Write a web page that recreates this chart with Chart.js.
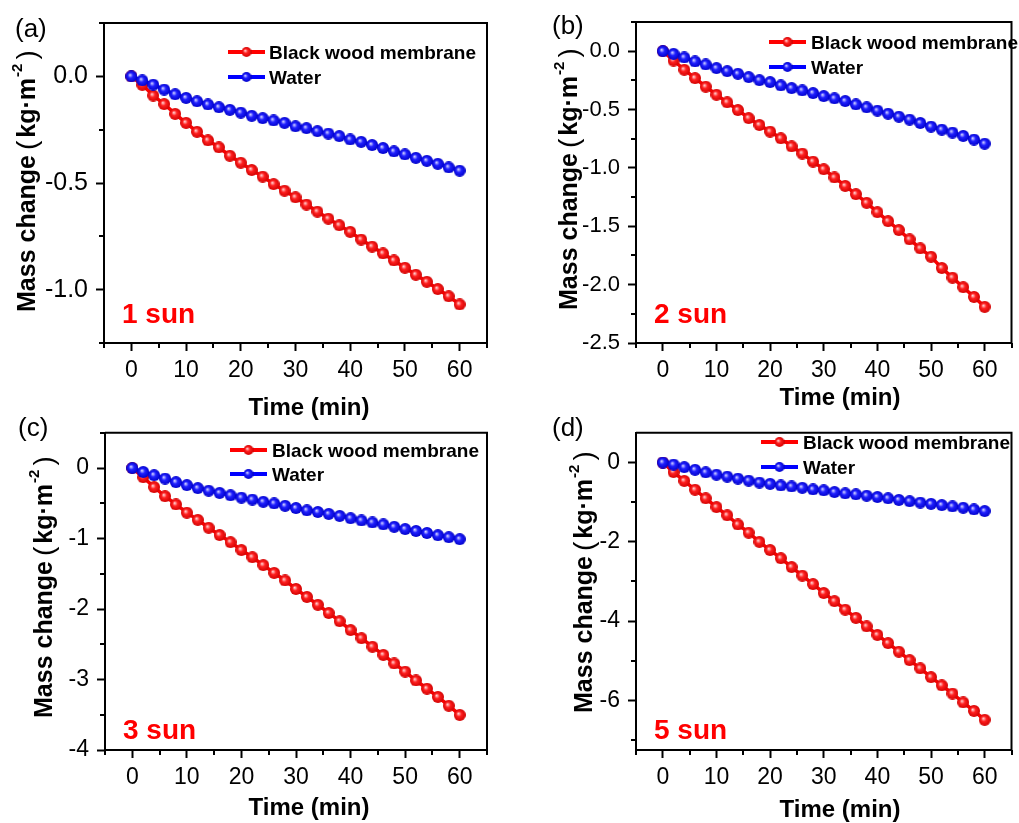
<!DOCTYPE html>
<html>
<head>
<meta charset="utf-8">
<script src="https://cdn.jsdelivr.net/npm/chart.js@4.4.1/dist/chart.umd.min.js"></script>
<style>
  html, body { margin: 0; padding: 0; background: #fff; }
  #wrap { position: relative; width: 1019px; height: 823px; overflow: hidden; }
  #wrap canvas { position: absolute; }
</style>
</head>
<body>
<div id="wrap">
  <canvas id="pa" width="509" height="425" style="left:0px;top:0px"></canvas>
  <canvas id="pb" width="510" height="425" style="left:509px;top:0px"></canvas>
  <canvas id="pc" width="509" height="412" style="left:0px;top:411px"></canvas>
  <canvas id="pd" width="510" height="412" style="left:509px;top:411px"></canvas>
</div>
<script>
// sampling times (min)
const timeMin = [0, 2, 4, 6, 8, 10, 12, 14, 16, 18, 20, 22, 24, 26, 28, 30,
  32, 34, 36, 38, 40, 42, 44, 46, 48, 50, 52, 54, 56, 58, 60];

// mass change (kg m-2), black wood membrane vs bare water
const redA = [0, -0.04, -0.09, -0.13, -0.176, -0.218, -0.26, -0.30, -0.333, -0.372, -0.405,
  -0.439, -0.47, -0.505, -0.536, -0.567, -0.601, -0.634, -0.667, -0.698, -0.729,
  -0.765, -0.798, -0.83, -0.863, -0.897, -0.93, -0.963, -0.997, -1.031, -1.069];
const blueA = [0, -0.019, -0.039, -0.062, -0.084, -0.101, -0.117, -0.132, -0.145, -0.157, -0.170,
  -0.185, -0.196, -0.207, -0.218, -0.234, -0.243, -0.257, -0.268, -0.280, -0.296,
  -0.307, -0.322, -0.336, -0.352, -0.366, -0.382, -0.396, -0.410, -0.427, -0.442];

const redB = [0, -0.08, -0.159, -0.231, -0.304, -0.373, -0.438, -0.504, -0.573, -0.632, -0.689,
  -0.746, -0.815, -0.877, -0.946, -1.011, -1.082, -1.154, -1.225, -1.299, -1.379,
  -1.456, -1.532, -1.612, -1.689, -1.761, -1.857, -1.94, -2.022, -2.105, -2.19];
const blueB = [0, -0.023, -0.054, -0.088, -0.114, -0.145, -0.171, -0.193, -0.222, -0.248, -0.265,
  -0.293, -0.316, -0.336, -0.359, -0.385, -0.404, -0.427, -0.456, -0.481, -0.509,
  -0.535, -0.561, -0.586, -0.615, -0.646, -0.672, -0.697, -0.726, -0.757, -0.792];

const redC = [0, -0.13, -0.27, -0.40, -0.516, -0.633, -0.735, -0.847, -0.949, -1.051, -1.163,
  -1.265, -1.377, -1.488, -1.595, -1.716, -1.828, -1.94, -2.056, -2.172, -2.298,
  -2.414, -2.535, -2.651, -2.772, -2.888, -3.014, -3.13, -3.247, -3.372, -3.502];
const blueC = [0, -0.056, -0.102, -0.149, -0.2, -0.242, -0.284, -0.321, -0.353, -0.386, -0.419,
  -0.447, -0.479, -0.502, -0.535, -0.567, -0.6, -0.623, -0.651, -0.679, -0.712,
  -0.744, -0.772, -0.8, -0.833, -0.865, -0.893, -0.921, -0.953, -0.981, -1.009];

const redD = [0, -0.24, -0.463, -0.686, -0.901, -1.124, -1.331, -1.562, -1.769, -2.0, -2.207,
  -2.413, -2.636, -2.851, -3.066, -3.289, -3.496, -3.711, -3.917, -4.132, -4.347,
  -4.554, -4.769, -4.983, -5.19, -5.413, -5.62, -5.826, -6.05, -6.264, -6.488];
const blueD = [0, -0.05, -0.116, -0.182, -0.248, -0.306, -0.355, -0.405, -0.455, -0.504, -0.537,
  -0.579, -0.603, -0.636, -0.678, -0.702, -0.744, -0.777, -0.802, -0.835, -0.868,
  -0.901, -0.942, -0.975, -1.008, -1.041, -1.074, -1.107, -1.14, -1.182, -1.223];

// axis ticks
const timeTicks = [0, 10, 20, 30, 40, 50, 60];
const timeMinor = [-5, 5, 15, 25, 35, 45, 55, 65];
const yTicksA = [0, -0.5, -1.0];
const yMinorA = [0.25, -0.25, -0.75, -1.25];
const yTicksB = [0, -0.5, -1.0, -1.5, -2.0, -2.5];
const yMinorB = [0.25, -0.25, -0.75, -1.25, -1.75, -2.25];
const yTicksC = [0, -1, -2, -3, -4];
const yMinorC = [0.5, -0.5, -1.5, -2.5, -3.5];
const yTicksD = [0, -2, -4, -6];
const yMinorD = [-1, -3, -5, -7];

const seriesNames = ['Black wood membrane', 'Water'];
const sunLabels = ['1 sun', '2 sun', '3 sun', '5 sun'];
const panelTags = ['(a)', '(b)', '(c)', '(d)'];

const FONT = '"Liberation Sans", Arial, sans-serif';
Chart.defaults.font.family = FONT;
Chart.defaults.color = '#000';

const RED = '#ff0000';
const BLUE = '#0000ff';

// shaded ball marker
function ball(size, light, mid, dark) {
  const c = document.createElement('canvas');
  c.width = c.height = size;
  const r = size / 2;
  const g = c.getContext('2d');
  const grad = g.createRadialGradient(r - 1.4, r - 1.4, 0.2, r, r, r + 0.1);
  grad.addColorStop(0, light);
  grad.addColorStop(0.4, mid);
  grad.addColorStop(1, dark);
  g.fillStyle = grad;
  g.beginPath();
  g.arc(r, r, r, 0, Math.PI * 2);
  g.fill();
  return c;
}
const redBall = ball(12, '#ffd6d6', '#ff2020', '#d00000');
const blueBall = ball(12, '#d6d6ff', '#2020ff', '#0000c8');
const redKey = ball(10, '#ffd6d6', '#ff2020', '#d00000');
const blueKey = ball(10, '#d6d6ff', '#2020ff', '#0000c8');

// frame, minor ticks, titles, legend and labels
const decor = {
  id: 'decor',
  afterDraw(chart, args, o) {
    const ctx = chart.ctx;
    const a = chart.chartArea;
    const xs = chart.scales.x, ys = chart.scales.y;
    ctx.save();
    ctx.strokeStyle = '#000';
    ctx.lineWidth = 2;
    ctx.beginPath();
    ctx.moveTo(a.left, a.top);
    ctx.lineTo(a.right, a.top);
    ctx.lineTo(a.right, a.bottom + 1);
    ctx.stroke();

    ctx.beginPath();
    o.xMinor.forEach(v => {
      const px = Math.round(xs.getPixelForValue(v));
      ctx.moveTo(px, a.bottom);
      ctx.lineTo(px, a.bottom + 5);
    });
    o.yMinor.forEach(v => {
      const py = Math.round(ys.getPixelForValue(v));
      ctx.moveTo(a.left, py);
      ctx.lineTo(a.left - 5, py);
    });
    ctx.stroke();

    ctx.fillStyle = '#000';
    ctx.textBaseline = 'alphabetic';

    // x title
    ctx.textAlign = 'center';
    ctx.font = 'bold 24px ' + FONT;
    ctx.fillText('Time (min)', o.xTitle[0], o.xTitle[1]);

    // y title, rotated, with superscript
    ctx.save();
    ctx.translate(o.yTitle[0], o.yTitle[1]);
    ctx.rotate(-Math.PI / 2);
    ctx.textAlign = 'left';
    const parts = [
      { t: 'Mass change', f: 'bold 25px ' + FONT, dy: 0, gap: 5 },
      { t: '(', f: '28px ' + FONT, dy: 1, gap: 3 },
      { t: 'kg·m', f: 'bold 25px ' + FONT, dy: 0, gap: 1 },
      { t: '-2', f: 'bold 15px ' + FONT, dy: -13, gap: 4 },
      { t: ')', f: '28px ' + FONT, dy: 1, gap: 0 }
    ];
    let pos = 0;
    parts.forEach(p => {
      ctx.font = p.f;
      ctx.fillText(p.t, pos, p.dy);
      pos += ctx.measureText(p.t).width + p.gap;
    });
    ctx.restore();

    // panel tag
    ctx.textAlign = 'left';
    ctx.font = '26px ' + FONT;
    ctx.fillText(o.tag, o.tagPos[0], o.tagPos[1]);

    // irradiation label
    ctx.fillStyle = RED;
    ctx.font = 'bold 28px ' + FONT;
    ctx.fillText(o.sun, a.left + o.sunDx, o.sunY);

    // legend
    const marks = [[RED, redKey], [BLUE, blueKey]];
    marks.forEach((m, i) => {
      const y = o.legY[i];
      ctx.strokeStyle = m[0];
      ctx.lineWidth = 4;
      ctx.beginPath();
      ctx.moveTo(o.legX[0], y);
      ctx.lineTo(o.legX[1], y);
      ctx.stroke();
      ctx.drawImage(m[1], (o.legX[0] + o.legX[1]) / 2 - 5, y - 5);
      ctx.fillStyle = '#000';
      ctx.font = 'bold 19px ' + FONT;
      ctx.fillText(o.names[i], o.legX[2], y + 7);
    });
    ctx.restore();
  }
};

function makePanel(id, p) {
  const pts = arr => arr.map((v, i) => ({ x: timeMin[i], y: v }));
  return new Chart(document.getElementById(id), {
    type: 'line',
    data: {
      datasets: [
        { label: seriesNames[1], data: pts(p.blue), borderColor: BLUE, borderWidth: 3.5,
          pointStyle: blueBall, order: 0 },
        { label: seriesNames[0], data: pts(p.red), borderColor: RED, borderWidth: 3.5,
          pointStyle: redBall, order: 1 }
      ]
    },
    options: {
      responsive: false,
      animation: false,
      events: [],
      layout: { padding: { left: 0, top: p.padTop, right: p.padRight, bottom: 0 } },
      plugins: {
        legend: { display: false },
        tooltip: { enabled: false },
        decor: {
          xMinor: timeMinor, yMinor: p.yMinor, xTitle: p.xTitle, yTitle: p.yTitle,
          tag: p.tag, tagPos: p.tagPos, sun: p.sun, sunDx: 18, sunY: p.sunY,
          legX: p.legX, legY: p.legY, names: seriesNames
        }
      },
      scales: {
        x: {
          type: 'linear', min: -5, max: 65,
          afterBuildTicks: s => { s.ticks = timeTicks.map(v => ({ value: v })); },
          afterFit: s => { s.height = p.xH; },
          grid: { drawOnChartArea: false, tickLength: 8, tickWidth: 2, tickColor: '#000' },
          border: { color: '#000', width: 2 },
          ticks: { font: { size: 23 }, padding: 6, maxRotation: 0 }
        },
        y: {
          type: 'linear', min: p.yMin, max: p.yMax,
          afterBuildTicks: s => { s.ticks = p.yTicks.map(v => ({ value: v })); },
          afterFit: s => { s.width = p.yW; },
          grid: { drawOnChartArea: false, tickLength: 8, tickWidth: 2, tickColor: '#000' },
          border: { color: '#000', width: 2 },
          ticks: {
            font: { size: p.yFont }, padding: 8,
            callback: v => Number(v).toFixed(p.dec)
          }
        }
      }
    },
    plugins: [decor]
  });
}

makePanel('pa', {
  red: redA, blue: blueA, yMin: -1.25, yMax: 0.25, yTicks: yTicksA, yMinor: yMinorA, dec: 1,
  yFont: 25, padTop: 22, padRight: 22, xH: 82, yW: 104,
  xTitle: [309, 415], yTitle: [35, 312], tag: panelTags[0], tagPos: [15, 37],
  sun: sunLabels[0], sunY: 323, legX: [228, 265, 269], legY: [52, 77]
});
makePanel('pb', {
  red: redB, blue: blueB, yMin: -2.5, yMax: 0.25, yTicks: yTicksB, yMinor: yMinorB, dec: 1,
  yFont: 22, padTop: 22, padRight: 2, xH: 82, yW: 127,
  xTitle: [331, 405], yTitle: [68, 310], tag: panelTags[1], tagPos: [43, 34],
  sun: sunLabels[1], sunY: 323, legX: [260, 297, 302], legY: [42, 67]
});
makePanel('pc', {
  red: redC, blue: blueC, yMin: -4, yMax: 0.5, yTicks: yTicksC, yMinor: yMinorC, dec: 0,
  yFont: 23, padTop: 16, padRight: 22, xH: 73, yW: 105,
  xTitle: [309, 404], yTitle: [52, 307], tag: panelTags[2], tagPos: [18, 25],
  sun: sunLabels[2], sunY: 328, legX: [230, 267, 272], legY: [39, 63]
});
makePanel('pd', {
  red: redD, blue: blueD, yMin: -7.25, yMax: 0.75, yTicks: yTicksD, yMinor: yMinorD, dec: 0,
  yFont: 23, padTop: 16, padRight: 2, xH: 73, yW: 127,
  xTitle: [331, 406], yTitle: [83, 302], tag: panelTags[3], tagPos: [43, 25],
  sun: sunLabels[3], sunY: 328, legX: [252, 289, 294], legY: [31, 56]
});
</script>
</body>
</html>
